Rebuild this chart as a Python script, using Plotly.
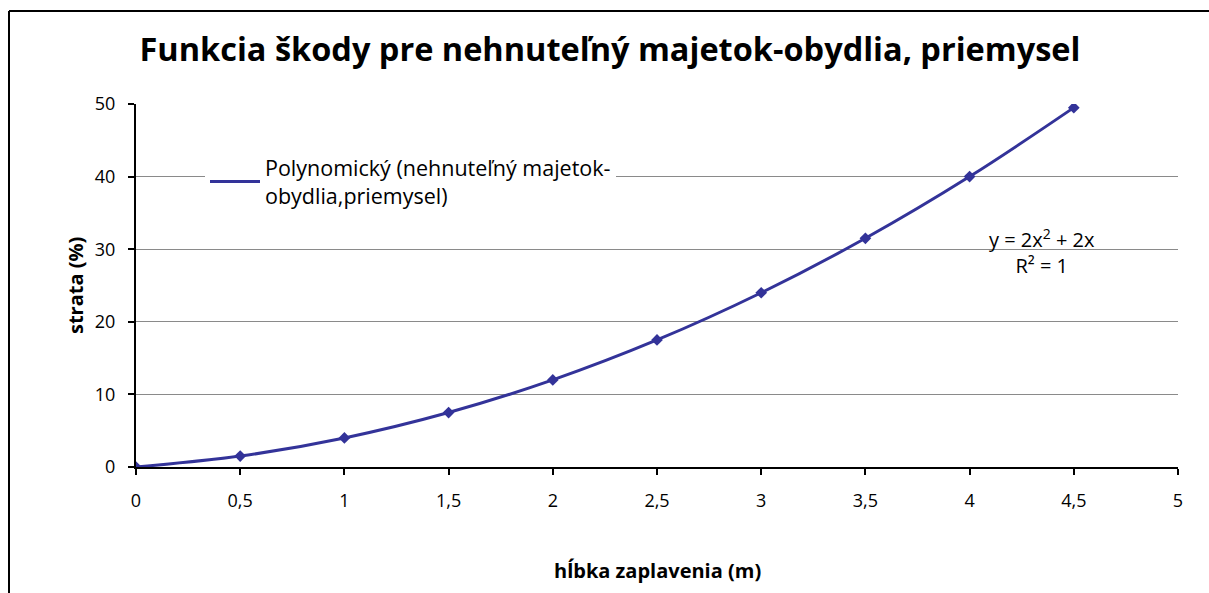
import plotly.graph_objects as go

depth = [0, 0.5, 1, 1.5, 2, 2.5, 3, 3.5, 4, 4.5]
loss = [0, 1.5, 4, 7.5, 12, 17.5, 24, 31.5, 40, 49.5]
x_ticks = [0, 0.5, 1, 1.5, 2, 2.5, 3, 3.5, 4, 4.5, 5]
y_ticks = [0, 10, 20, 30, 40, 50]

title = "Funkcia škody pre nehnuteľný majetok-obydlia, priemysel"
x_title = "hĺbka zaplavenia (m)"
y_title = "strata (%)"
trend_name = "Polynomický (nehnuteľný majetok-<br>obydlia,priemysel)"
eq_text = "y = 2x<sup>2</sup> + 2x<br>R² = 1"

FONT = "'Open Sans', sans-serif"
BLUE = "#333399"

W, H = 1209, 593
L, R, T, B = 136, 31, 104, 126
PW, PH = W - L - R, H - T - B


def px(x):
    return (x - L) / PW


def py(y):
    return (T + PH - y) / PH


fig = go.Figure()
fig.add_trace(go.Scatter(
    x=depth, y=loss, mode="markers",
    marker=dict(symbol="diamond", size=9, color=BLUE),
    showlegend=False, hoverinfo="skip"))
fig.add_trace(go.Scatter(
    x=depth, y=loss, mode="lines", line=dict(color=BLUE, width=3, shape="spline"),
    name=trend_name, showlegend=True))

fig.update_layout(
    width=W, height=H,
    margin=dict(l=L, r=R, t=T, b=B),
    paper_bgcolor="white", plot_bgcolor="white",
    separators=", ",
    font=dict(family=FONT, size=18, color="black"),
    title=dict(text="<b>" + title + "</b>", x=px(610), xanchor="center",
               y=1 - 50 / H, yanchor="middle", xref="paper",
               font=dict(size=32.5, family=FONT, color="black")),
    xaxis=dict(range=[0, 5], tickvals=x_ticks,
               showline=True, linecolor="black", linewidth=2,
               ticks="outside", ticklen=6, tickwidth=1.5, tickcolor="black",
               showgrid=False, zeroline=False, ticklabelstandoff=10,
               tickfont=dict(size=18)),
    yaxis=dict(range=[0, 50], tickvals=y_ticks,
               showline=True, linecolor="black", linewidth=2,
               ticks="outside", ticklen=6, tickwidth=1.5, tickcolor="black",
               showgrid=True, gridcolor="#8a8a8a", gridwidth=1.3, zeroline=False,
               ticklabelstandoff=9, tickfont=dict(size=18)),
    legend=dict(x=px(205), y=py(147), xanchor="left", yanchor="top",
                bgcolor="white", font=dict(size=21.5), itemwidth=50, tracegroupgap=0),
    annotations=[
        dict(text=eq_text, xref="paper", yref="paper",
             x=px(1042), y=py(251), xanchor="center", yanchor="middle",
             showarrow=False, font=dict(size=20), align="center"),
        dict(text="<b>" + x_title + "</b>", xref="paper", yref="paper",
             x=px(657), y=py(570), xanchor="center", yanchor="middle",
             showarrow=False, font=dict(size=20)),
        dict(text="<b>" + y_title + "</b>", xref="paper", yref="paper",
             x=px(75), y=py(286), xanchor="center", yanchor="middle",
             showarrow=False, font=dict(size=20), textangle=-90),
    ],
    shapes=[
        dict(type="line", xref="paper", yref="paper",
             x0=px(9), x1=px(9), y0=py(640), y1=py(11),
             line=dict(color="black", width=2), layer="below"),
        dict(type="line", xref="paper", yref="paper",
             x0=px(9), x1=px(1240), y0=py(11), y1=py(11),
             line=dict(color="black", width=2), layer="below"),
    ],
)

fig.write_html(
    "out.html",
    config={"displayModeBar": False},
    post_script="document.body.style.margin='0';document.body.style.overflow='hidden';",
)
